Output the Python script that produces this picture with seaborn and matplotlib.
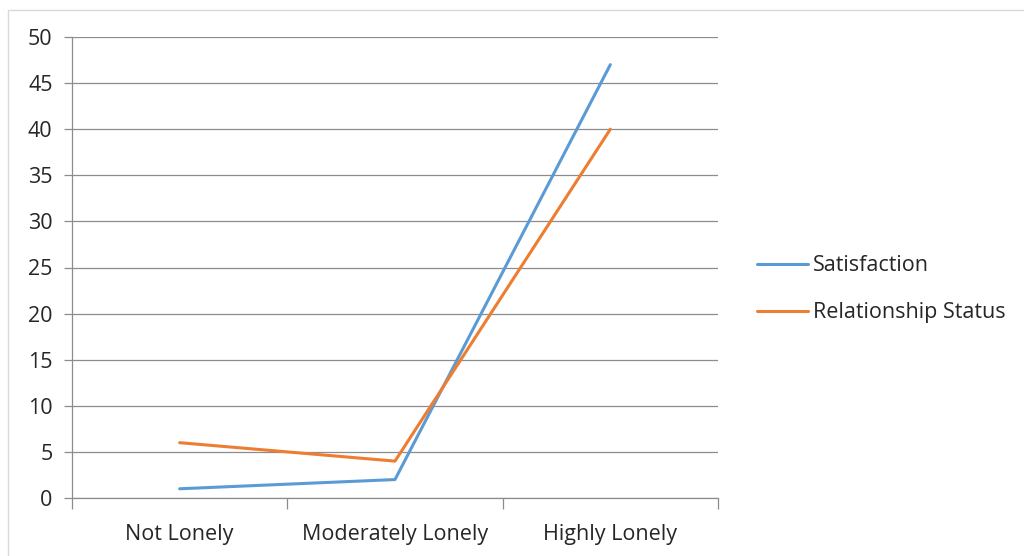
import matplotlib
matplotlib.use("Agg")
import matplotlib.pyplot as plt
from matplotlib.patches import Rectangle
import pandas as pd
import seaborn as sns

categories = ["Not Lonely", "Moderately Lonely", "Highly Lonely"]
satisfaction = [1, 2, 47]
relationship_status = [6, 4, 40]
series_names = ["Satisfaction", "Relationship Status"]
y_ticks = [0, 5, 10, 15, 20, 25, 30, 35, 40, 45, 50]

df = pd.DataFrame({
    "Loneliness": categories * 2,
    "Value": satisfaction + relationship_status,
    "Series": [series_names[0]] * 3 + [series_names[1]] * 3,
})
df["pos"] = [0, 1, 2] * 2

sns.set_style("white")
plt.rcParams["font.family"] = ["Open Sans", "DejaVu Sans"]

fig = plt.figure(figsize=(10.24, 5.56), dpi=100)
ax = fig.add_axes([72 / 1024, 1 - 498 / 556, (718 - 72) / 1024, (498 - 37) / 556])

# light chart-area frame
fig.patches.append(Rectangle((8 / 1024, -0.1), 1.2, 1 - 10 / 556 + 0.1,
                             transform=fig.transFigure, fill=False,
                             edgecolor="#d9d9d9", linewidth=1.0, zorder=0))

palette = {series_names[0]: "#5B9BD5", series_names[1]: "#ED7D31"}
sns.lineplot(data=df, x="pos", y="Value", hue="Series", palette=palette,
             linewidth=2.2, ax=ax, legend=True)

grid_c = "#8c8c8c"
fs = 15.5
ax.set_xlim(-0.5, 2.5)
ax.set_ylim(0, 50)
ax.set_yticks(y_ticks)
ax.set_yticklabels([str(v) for v in y_ticks])
ax.set_xticks([0, 1, 2])
ax.set_xticklabels(categories)
ax.set_xticks([-0.5, 0.5, 1.5, 2.5], minor=True)
ax.set_xlabel("")
ax.set_ylabel("")

ax.yaxis.grid(True, color=grid_c, linewidth=0.9)
ax.set_axisbelow(True)
for s in ["top", "right"]:
    ax.spines[s].set_visible(False)
for s in ["left", "bottom"]:
    ax.spines[s].set_color(grid_c)
    ax.spines[s].set_linewidth(0.9)

ax.tick_params(axis="y", which="major", left=True, length=6, width=0.9,
               color=grid_c, labelsize=fs, labelcolor="#262626", pad=8)
ax.tick_params(axis="x", which="major", bottom=False, length=0,
               labelsize=fs, labelcolor="#262626", pad=19)
ax.tick_params(axis="x", which="minor", bottom=True, length=8, width=0.9,
               color=grid_c)

leg = ax.legend(loc="center left", bbox_to_anchor=(1.047, 0.453), frameon=False,
                fontsize=fs, handlelength=2.35, handletextpad=0.25,
                labelspacing=1.2, borderaxespad=0)
for t in leg.get_texts():
    t.set_color("#262626")

fig.savefig("out.png", dpi=100, facecolor="white")
